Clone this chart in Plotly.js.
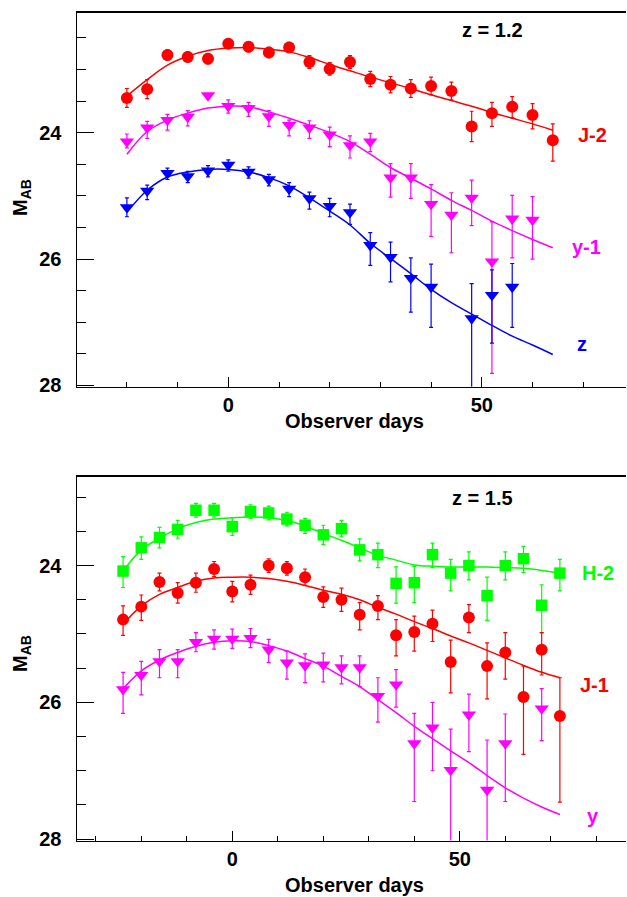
<!DOCTYPE html>
<html><head><meta charset="utf-8">
<script src="https://cdn.plot.ly/plotly-3.0.1.min.js"></script>
<style>html,body{margin:0;padding:0;background:#fff;} #chart{width:627px;height:897px;}</style>
</head><body><div id="chart"></div>
<script>
// ---------- Top panel (z = 1.2) ----------
var dayTop = [-20,-16,-12,-8,-4,0,4,8,12,16,20,24,28,32,36,40,44,48,52,56,60,64];
var j2Mag = [23.45,23.31,22.77,22.80,22.83,22.59,22.64,22.73,22.65,22.88,22.99,22.88,23.15,23.24,23.30,23.26,23.34,23.90,23.69,23.59,23.72,24.12];
var j2Up  = [0.15,0.15,0.08,0.08,0.08,0.08,0.08,0.08,0.08,0.10,0.10,0.10,0.12,0.13,0.14,0.14,0.14,0.24,0.17,0.16,0.18,0.26];
var j2Dn  = [0.15,0.15,0.08,0.08,0.08,0.08,0.08,0.08,0.08,0.10,0.10,0.10,0.12,0.13,0.14,0.14,0.14,0.24,0.21,0.17,0.22,0.33];

var dayY1 = [-20,-16,-12,-8,-4,0,4,8,12,16,20,24,28,32,36,40,44,48,52,56,60];
var y1Mag = [24.14,23.92,23.80,23.75,23.41,23.58,23.61,23.74,23.88,23.92,24.03,24.20,24.14,24.71,24.71,25.13,25.30,25.03,26.04,25.36,25.38];
var y1Up  = [0.12,0.10,0.09,0.10,0,0.10,0.09,0.09,0.08,0.11,0.12,0.15,0.13,0.22,0.22,0.31,0.35,0.28,0.63,0.37,0.37];
var y1Dn  = [0.10,0.17,0.16,0.14,0,0.11,0.13,0.16,0.17,0.17,0.19,0.20,0.16,0.31,0.33,0.51,0.60,0.44,1.77,0.62,0.62];

var dayZ = [-20,-16,-12,-8,-4,0,4,8,12,16,20,24,28,32,36,40,48,52,56];
var zMag = [25.18,24.92,24.64,24.69,24.60,24.51,24.62,24.74,24.89,25.04,25.16,25.26,25.78,25.97,26.30,26.44,26.94,26.57,26.44];
var zUp  = [0.15,0.09,0.08,0.08,0.08,0.08,0.08,0.08,0.10,0.10,0.12,0.13,0.20,0.24,0.32,0.36,0.55,0.40,0.37];
var zDn  = [0.15,0.14,0.10,0.10,0.10,0.10,0.10,0.10,0.12,0.17,0.17,0.19,0.32,0.39,0.54,0.64,3.00,0.76,0.64];

var fitDayTop = [-20,-16,-12,-8,-4,0,4,8,12,16,20,24,28,32,36,40,44,48,52,56,60,64];
var j2Fit = [23.42,23.16,22.93,22.79,22.70,22.66,22.65,22.68,22.72,22.81,22.92,23.02,23.12,23.21,23.30,23.40,23.49,23.58,23.68,23.77,23.86,23.96];
var y1Fit = [24.34,23.98,23.80,23.69,23.61,23.58,23.59,23.67,23.77,23.88,24.00,24.14,24.34,24.55,24.72,24.89,25.07,25.23,25.40,25.55,25.69,25.82];
var zFit  = [25.26,24.91,24.70,24.62,24.58,24.58,24.62,24.71,24.84,25.03,25.24,25.46,25.75,25.99,26.23,26.48,26.69,26.87,27.05,27.22,27.36,27.51];

// ---------- Bottom panel (z = 1.5) ----------
var dayBot = [-24,-20,-16,-12,-8,-4,0,4,8,12,16,20,24,28,32,36,40,44,48,52,56,60,64,68,72];
var h2Mag = [24.08,23.74,23.59,23.47,23.19,23.19,23.43,23.21,23.23,23.32,23.41,23.55,23.46,23.77,23.84,24.26,24.25,23.84,24.11,24.00,24.44,24.00,23.90,24.58,24.11];
var h2Up  = [0.21,0.16,0.15,0.13,0.10,0.10,0.13,0.10,0.10,0.10,0.10,0.14,0.12,0.16,0.17,0.24,0.24,0.17,0.20,0.20,0.27,0.20,0.18,0.30,0.20];
var h2Dn  = [0.24,0.17,0.15,0.13,0.10,0.10,0.13,0.10,0.10,0.10,0.12,0.14,0.12,0.16,0.19,0.29,0.29,0.19,0.26,0.21,0.36,0.21,0.20,0.40,0.26];

var j1Mag = [24.79,24.60,24.24,24.40,24.25,24.05,24.38,24.28,24.00,24.04,24.17,24.46,24.50,24.72,24.59,25.02,24.97,24.85,25.41,24.76,25.47,25.27,25.92,25.23,26.20];
var j1Up  = [0.20,0.17,0.13,0.15,0.14,0.11,0.15,0.14,0.10,0.10,0.12,0.15,0.17,0.18,0.15,0.23,0.23,0.20,0.32,0.19,0.34,0.29,0.45,0.25,0.56];
var j1Dn  = [0.23,0.20,0.13,0.15,0.14,0.11,0.15,0.14,0.10,0.10,0.12,0.15,0.17,0.22,0.20,0.30,0.28,0.26,0.45,0.22,0.48,0.39,0.84,0.37,1.26];

var dayYB = [-24,-20,-16,-12,-8,-4,0,4,8,12,16,20,24,28,32,36,40,44,48,52,56,60,68];
var yMag = [25.81,25.60,25.40,25.40,25.12,25.07,25.07,25.06,25.23,25.42,25.46,25.45,25.49,25.49,25.91,25.74,26.60,26.37,26.99,26.18,27.28,26.60,26.09];
var yUp  = [0.25,0.20,0.17,0.17,0.14,0.13,0.14,0.14,0.15,0.17,0.17,0.17,0.17,0.17,0.27,0.22,0.44,0.37,0.60,0.30,0.73,0.43,0.29];
var yDn  = [0.35,0.29,0.24,0.24,0.14,0.15,0.14,0.14,0.19,0.24,0.25,0.25,0.24,0.28,0.38,0.33,0.85,0.63,1.50,0.54,1.50,0.85,0.47];

var fitDayBot = [-24,-20,-16,-12,-8,-4,0,4,8,12,16,20,24,28,32,36,40,44,48,52,56,60,64,68,72];
var h2Fit = [24.08,23.77,23.60,23.46,23.37,23.32,23.30,23.29,23.30,23.34,23.42,23.53,23.63,23.74,23.85,23.92,23.99,24.01,24.02,24.02,24.02,24.03,24.04,24.07,24.11];
var j1Fit = [24.86,24.59,24.42,24.32,24.23,24.18,24.17,24.17,24.19,24.23,24.29,24.36,24.42,24.50,24.61,24.71,24.82,24.92,25.03,25.13,25.24,25.35,25.46,25.56,25.64];
var yFit  = [25.80,25.54,25.38,25.27,25.18,25.12,25.10,25.11,25.17,25.25,25.36,25.47,25.62,25.77,25.96,26.15,26.35,26.53,26.71,26.88,27.07,27.25,27.40,27.53,27.64];

var RED='#ff0000', MAG='#ff00ff', BLUE='#0000ff', GREEN='#00ff00';
var F = 'Liberation Sans, Arial, Helvetica, sans-serif';

function pts(x, y, up, dn, color, symbol, size, xa, ya) {
  return {x:x, y:y, type:'scatter', mode:'markers', xaxis:xa, yaxis:ya,
    marker:{color:color, symbol:symbol, size:size, line:{width:0}},
    error_y:{type:'data', symmetric:false, array:dn, arrayminus:up, color:color, thickness:1.2, width:2},
    showlegend:false, hoverinfo:'skip'};
}
function fit(x, y, color, xa, ya) {
  return {x:x, y:y, type:'scatter', mode:'lines', xaxis:xa, yaxis:ya,
    line:{color:color, width:1.5, shape:'spline'}, showlegend:false, hoverinfo:'skip'};
}

var data = [
  fit(fitDayTop, j2Fit, RED, 'x', 'y'),
  fit(fitDayTop, y1Fit, MAG, 'x', 'y'),
  fit(fitDayTop, zFit, BLUE, 'x', 'y'),
  pts(dayTop, j2Mag, j2Up, j2Dn, RED, 'circle', 12, 'x', 'y'),
  pts(dayY1, y1Mag, y1Up, y1Dn, MAG, 'triangle-down', 12.5, 'x', 'y'),
  pts(dayZ, zMag, zUp, zDn, BLUE, 'triangle-down', 12.5, 'x', 'y'),
  fit(fitDayBot, h2Fit, GREEN, 'x2', 'y2'),
  fit(fitDayBot, j1Fit, RED, 'x2', 'y2'),
  fit(fitDayBot, yFit, MAG, 'x2', 'y2'),
  pts(dayBot, h2Mag, h2Up, h2Dn, GREEN, 'square', 11.5, 'x2', 'y2'),
  pts(dayBot, j1Mag, j1Up, j1Dn, RED, 'circle', 12, 'x2', 'y2'),
  pts(dayYB, yMag, yUp, yDn, MAG, 'triangle-down', 12.5, 'x2', 'y2')
];

var tickFont = {family:F, size:20, color:'#000', weight:'bold'};
function xAx(range, anchor) {
  return {range:range, anchor:anchor, domain:[0,1], showline:true, linecolor:'#000', linewidth:1.5, mirror:true,
    ticks:'inside', ticklen:10, tickwidth:1, tickcolor:'#000', tick0:0, dtick:50,
    minor:{dtick:10, ticks:'inside', ticklen:5, tickwidth:1, tickcolor:'#000'},
    showgrid:false, zeroline:false, tickfont:tickFont, fixedrange:true};
}
function yAx(range, domain, anchor) {
  return {range:range, domain:domain, anchor:anchor, showline:true, linecolor:'#000', linewidth:1.5, mirror:false,
    ticks:'inside', ticklen:17, tickwidth:1, tickcolor:'#000', tick0:0, dtick:2,
    minor:{dtick:0.5, ticks:'inside', ticklen:9, tickwidth:1, tickcolor:'#000'},
    showgrid:false, zeroline:false, tickfont:tickFont, ticklabelstandoff:10, fixedrange:true};
}

var lblFont = function(c){ return {family:F, size:20, color:c, weight:'bold'}; };
var annotations = [
  {text:'z = 1.2', x:52.2, y:22.38, xref:'x', yref:'y', showarrow:false, font:lblFont('#000')},
  {text:'J-2', x:71.9, y:24.04, xref:'x', yref:'y', showarrow:false, font:lblFont(RED)},
  {text:'y-1', x:70.7, y:25.81, xref:'x', yref:'y', showarrow:false, font:lblFont(MAG)},
  {text:'z', x:69.8, y:27.34, xref:'x', yref:'y', showarrow:false, font:lblFont(BLUE)},
  {text:'z = 1.5', x:55.1, y:23.01, xref:'x2', yref:'y2', showarrow:false, font:lblFont('#000')},
  {text:'H-2', x:80.4, y:24.11, xref:'x2', yref:'y2', showarrow:false, font:lblFont(GREEN)},
  {text:'J-1', x:79.6, y:25.75, xref:'x2', yref:'y2', showarrow:false, font:lblFont(RED)},
  {text:'y', x:79.3, y:27.66, xref:'x2', yref:'y2', showarrow:false, font:lblFont(MAG)},
  {text:'Observer days', x:0.5046, y:1-421/897, xref:'paper', yref:'paper', xanchor:'center', yanchor:'middle', showarrow:false, font:lblFont('#000')},
  {text:'Observer days', x:0.5046, y:1-885/897, xref:'paper', yref:'paper', xanchor:'center', yanchor:'middle', showarrow:false, font:lblFont('#000')},
  {text:'M<sub>AB</sub>', x:(21-77)/549, y:1-197/897, xref:'paper', yref:'paper', xanchor:'center', yanchor:'middle', textangle:-90, showarrow:false, font:lblFont('#000')},
  {text:'M<sub>AB</sub>', x:(21-77)/549, y:1-653/897, xref:'paper', yref:'paper', xanchor:'center', yanchor:'middle', textangle:-90, showarrow:false, font:lblFont('#000')}
];

var layout = {
  width:627, height:897, margin:{l:77, r:1, t:0, b:0}, paper_bgcolor:'#fff', plot_bgcolor:'#fff',
  showlegend:false,
  xaxis: xAx([-29.84, 78.44], 'y'),
  yaxis: yAx([28.02, 22.10], [1-386.7/897, 1-12.7/897], 'x'),
  xaxis2: xAx([-34.13, 86.53], 'y2'),
  yaxis2: yAx([28.02, 22.70], [1-840.5/897, 1-476.7/897], 'x2'),
  annotations: annotations
};

Plotly.newPlot('chart', data, layout, {displayModeBar:false, staticPlot:true});
</script></body></html>
